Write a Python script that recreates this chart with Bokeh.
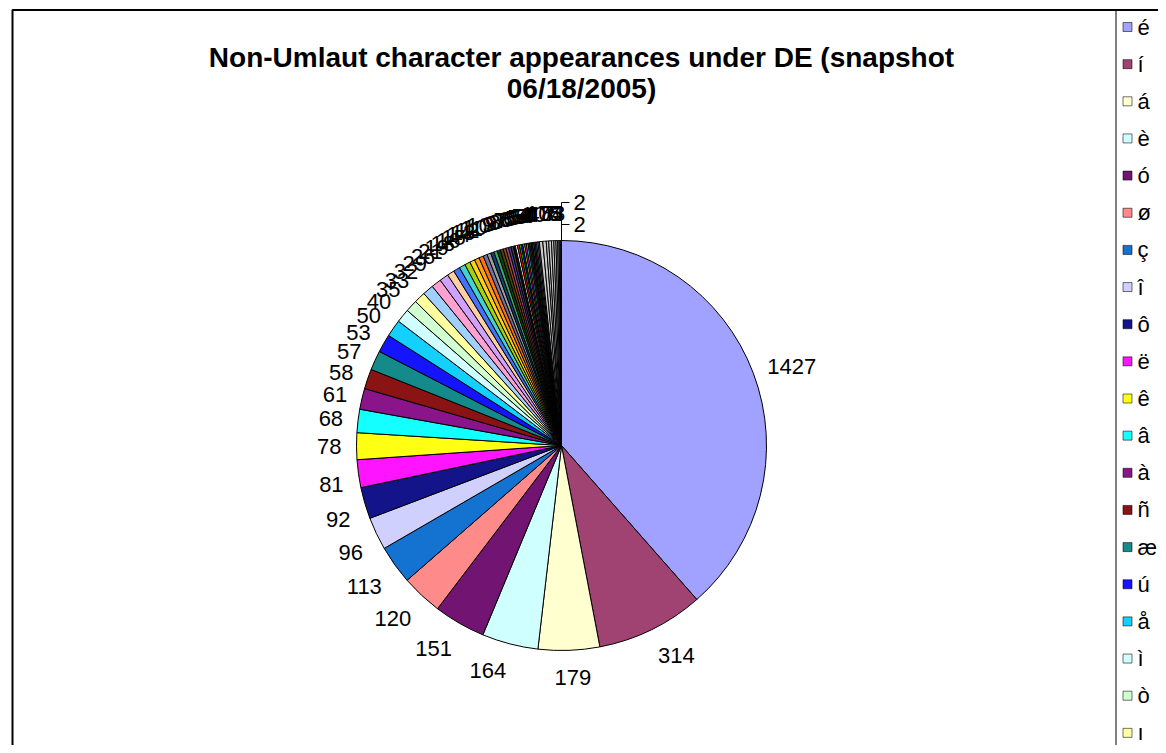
import math
from bokeh.plotting import figure
from bokeh.models import Range1d, ColumnDataSource
from bokeh.core.properties import value
from bokeh.embed import file_html
from bokeh.resources import INLINE

# ---------------- data ----------------
title_lines = ["Non-Umlaut character appearances under DE (snapshot", "06/18/2005)"]
chars = ["é", "í", "á", "è", "ó", "ø", "ç", "î", "ô", "ë",
         "ê", "â", "à", "ñ", "æ", "ú", "å", "ì", "ò", "ı"]
counts = [1427, 314, 179, 164, 151, 120, 113, 96, 92, 81,
          78, 68, 61, 58, 57, 53, 50, 40, 35, 33,
          32, 29, 26, 21, 19, 18, 16, 15, 14, 13,
          12, 11, 10, 10, 9, 9, 8, 8, 7, 7,
          6, 6, 6, 5, 5, 5, 5, 5, 5, 4,
          4, 4, 4, 4, 4, 4,
          10, 10, 7, 8, 7, 6, 5, 4, 3, 2, 2]
palette = ["#9999FF", "#993366", "#FFFFCC", "#CCFFFF", "#660066", "#FF8080", "#0066CC", "#CCCCFF",
           "#000080", "#FF00FF", "#FFFF00", "#00FFFF", "#800080", "#800000", "#008080", "#0000FF",
           "#00CCFF", "#CCFFFF", "#CCFFCC", "#FFFF99", "#99CCFF", "#FF99CC", "#CC99FF", "#FFCC99",
           "#3366FF", "#33CCCC", "#99CC00", "#FFCC00", "#FF9900", "#FF6600", "#666699", "#969696",
           "#003366", "#339966", "#003300", "#333300", "#993300", "#993366", "#333399", "#333333",
           "#000000", "#FFFFFF", "#FF0000", "#00FF00", "#0000FF", "#FFFF00", "#FF00FF", "#00FFFF",
           "#800000", "#008000", "#000080", "#808000", "#800080", "#008080", "#C0C0C0", "#808080"]
rest_color = "#CBCBCB"

# ---------------- layout (pixel space of the canvas) ----------------
W, H = 1158, 745
FONT = "Liberation Sans"


def X(px):  # picture x -> data x
    return px


def Y(py):  # picture y -> data y
    return H - py


def soften(hexcol, k=0.08):
    r, g, b = (int(hexcol[i:i + 2], 16) for i in (1, 3, 5))
    r, g, b = (int(round(c + (255 - c) * k)) for c in (r, g, b))
    return "#%02X%02X%02X" % (r, g, b)


p = figure(width=W, height=H, output_backend="svg", toolbar_location=None,
           x_range=Range1d(0, W), y_range=Range1d(0, H), min_border=0)
p.axis.visible = False
p.grid.visible = False
p.outline_line_color = None
p.background_fill_color = "white"
p.border_fill_color = "white"

# chart border and legend frame
p.line(x=[X(12), X(12), X(1170)], y=[Y(760), Y(9.5), Y(9.5)], line_color="black", line_width=2)
p.line(x=[X(1115.5), X(1115.5)], y=[Y(760), Y(9.5)], line_color="black", line_width=1)

# title
p.text(x=[X(581), X(581)], y=[Y(57), Y(88)], text=title_lines, text_align="center",
       text_baseline="middle", text_font=value(FONT), text_font_style="bold",
       text_font_size="28px", text_color="black")

# pie
cx, cy, R = X(561), Y(445), 205
total = float(sum(counts))
colors = [soften(palette[i]) if i < len(palette) else rest_color for i in range(len(counts))]
starts, ends, mids = [], [], []
acc = 0.0
for v in counts:
    a0 = acc / total * 2 * math.pi
    acc += v
    a1 = acc / total * 2 * math.pi
    starts.append(math.pi / 2 - a1)
    ends.append(math.pi / 2 - a0)
    mids.append((a0 + a1) / 2)

src = ColumnDataSource(dict(start=starts, end=ends, color=colors))
p.wedge(x=cx, y=cy, radius=R, start_angle="start", end_angle="end", direction="anticlock",
        fill_color="color", line_color="black", line_width=1, source=src)

# data labels (outside end, box pushed away from the pie)
FS = 22
r0 = R + 15
lx, ly, lt = [], [], []
n = len(counts)
for i, (v, th) in enumerate(zip(counts, mids)):
    if i >= n - 2:
        continue
    s, c = math.sin(th), math.cos(th)
    w = len(str(v)) * 0.556 * FS
    h = 25
    fx = max(-1.0, min(1.0, s / 0.2))
    if c < 0:
        oy = -h / 2 * min(1.0, -c / 0.2)
    else:
        oy = h / 2 * c * c
    lx.append(cx + r0 * s + fx * w / 2)
    ly.append(cy + r0 * c + oy)
    lt.append(str(v))
p.text(x=lx, y=ly, text=lt, text_align="center", text_baseline="middle",
       text_font=value(FONT), text_font_size=f"{FS}px", text_color="black")

# last two labels moved up with leader lines
top = cy + R
p.line(x=[cx, cx, cx + 8], y=[top, top + 38, top + 38], line_color="black", line_width=1)
p.line(x=[cx, cx + 8], y=[top + 16, top + 16], line_color="black", line_width=1)
p.text(x=[cx + 12, cx + 12], y=[top + 38, top + 16],
       text=[str(counts[-1]), str(counts[-2])], text_align="left", text_baseline="middle",
       text_font=value(FONT), text_font_size=f"{FS}px", text_color="black")

# legend (clipped by the chart area like the original)
pitch = 37.15
kx = [X(1127)] * len(chars)
ky = [Y(26.5 + i * pitch) for i in range(len(chars))]
p.rect(x=kx, y=ky, width=9, height=9, fill_color=colors[:len(chars)],
       line_color="black", line_alpha=0.55, line_width=1)
p.text(x=[X(1137)] * len(chars), y=ky, text=chars, text_align="left", text_baseline="middle",
       text_font=value(FONT), text_font_size="22px", text_color="black")

open("out.html", "w").write(file_html(p, INLINE))
